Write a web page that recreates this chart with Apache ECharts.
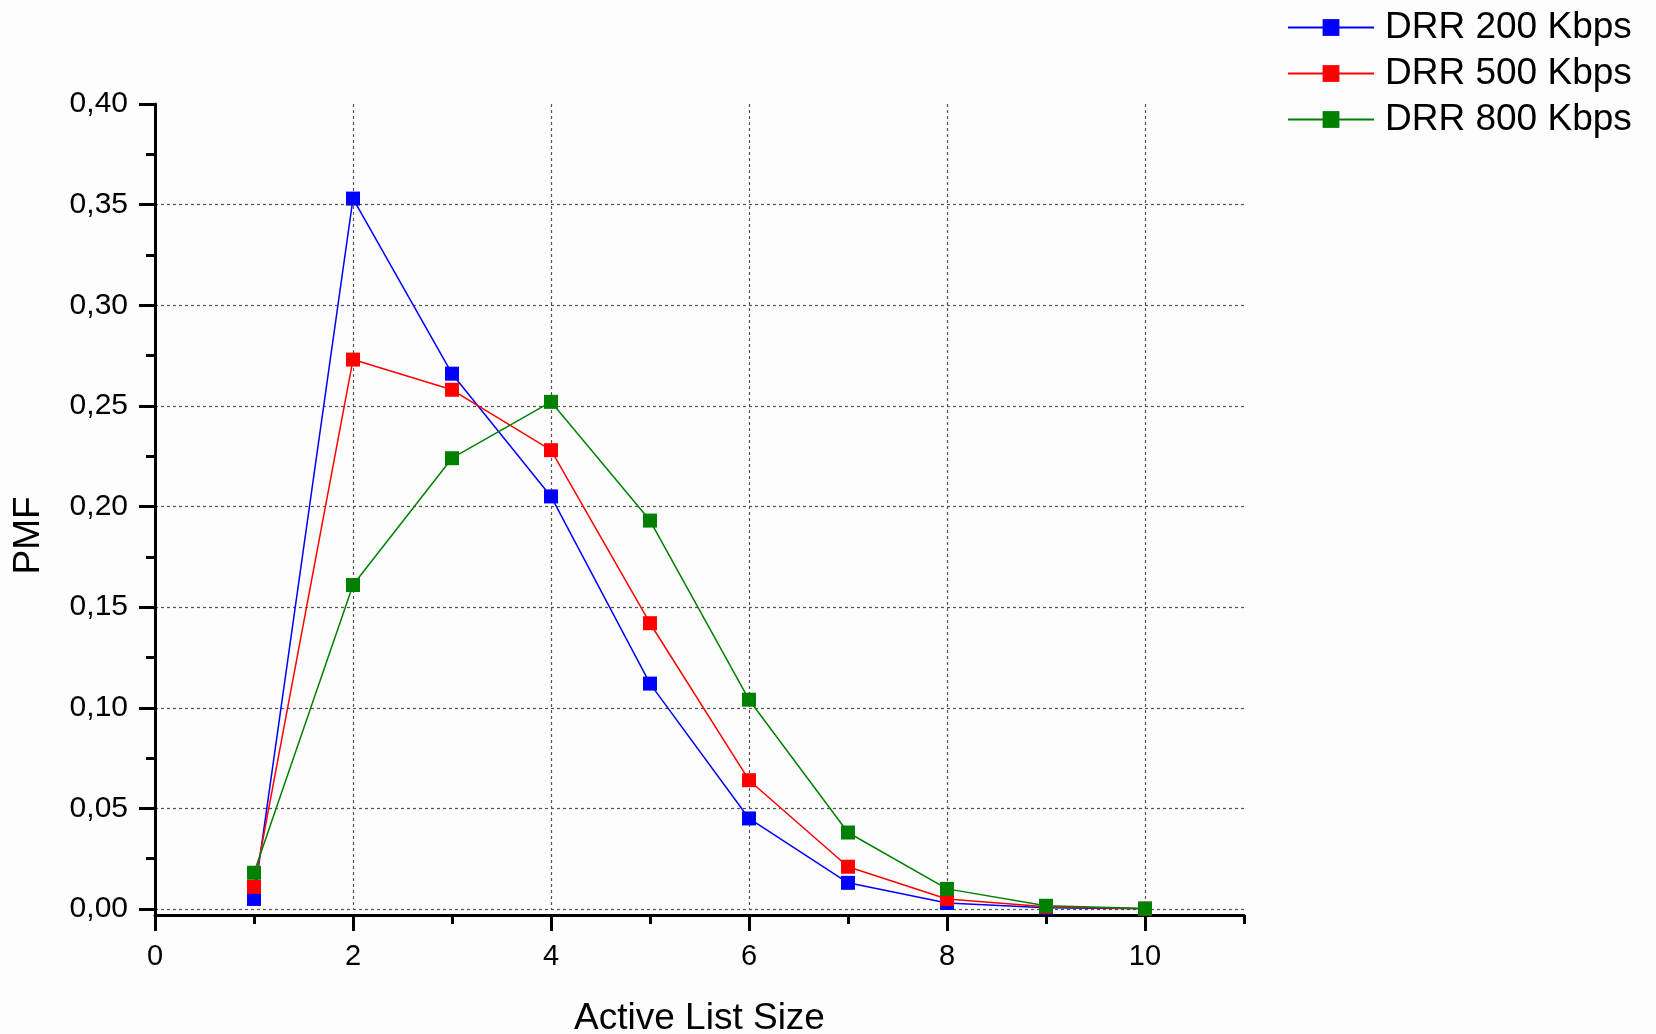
<!DOCTYPE html>
<html>
<head>
<meta charset="utf-8">
<title>PMF of Active List Size</title>
<script src="https://cdn.jsdelivr.net/npm/echarts@6/dist/echarts.min.js"></script>
<style>
  html, body { margin: 0; padding: 0; background: #fdfdfd; }
  #chart { width: 1656px; height: 1034px; }
</style>
</head>
<body>
<div id="chart"></div>
<script>
// Active list sizes (x values)
const listSizes = [1, 2, 3, 4, 5, 6, 7, 8, 9, 10];

// Probability mass per list size for each DRR rate
const drr200 = [0.005, 0.353, 0.266, 0.205, 0.112, 0.045, 0.013, 0.003, 0.0006, 0.0001];
const drr500 = [0.011, 0.273, 0.258, 0.228, 0.142, 0.064, 0.021, 0.005, 0.0011, 0.0001];
const drr800 = [0.018, 0.161, 0.224, 0.252, 0.193, 0.104, 0.038, 0.010, 0.0016, 0.0002];

const seriesNames = ['DRR 200 Kbps', 'DRR 500 Kbps', 'DRR 800 Kbps'];
const seriesColors = ['#0000ff', '#ff0000', '#008000'];

// Tick positions on the x axis
const xMajorTicks = [0, 2, 4, 6, 8, 10];
const xMinorTicks = [1, 3, 5, 7, 9, 11];

const FONT = "'Liberation Sans', Arial, sans-serif";
const pairs = vals => listSizes.map((x, i) => [x, vals[i]]);
const comma = v => v.toFixed(2).replace('.', ',');

const plotBox = { left: 155, right: 412, top: 104, outerBoundsMode: 'none', containLabel: false };

const chart = echarts.init(document.getElementById('chart'), null, { renderer: 'canvas' });

chart.setOption({
  backgroundColor: '#fdfdfd',
  animation: false,
  textStyle: { fontFamily: FONT },
  legend: {
    orient: 'vertical',
    left: 1282,
    top: 4,
    itemWidth: 86,
    itemHeight: 21,
    itemGap: 9,
    data: seriesNames,
    textStyle: { fontSize: 37, color: '#000', fontFamily: FONT, padding: [0, 0, 0, 6] }
  },
  grid: [
    // data area: y = 0 sits on its bottom edge
    Object.assign({ bottom: 125 }, plotBox),
    // axis frame: extends a few pixels below zero
    Object.assign({ bottom: 119 }, plotBox),
    // minor x ticks
    Object.assign({ bottom: 119 }, plotBox)
  ],
  xAxis: [
    {
      gridIndex: 0, type: 'value', min: 0, max: 11, interval: 2,
      axisLine: { show: false, onZero: false }, axisTick: { show: false }, axisLabel: { show: false },
      splitLine: {
        show: true, showMinLine: false, showMaxLine: false,
        lineStyle: { color: '#555', type: [3, 3], width: 1.2 }
      }
    },
    {
      gridIndex: 1, type: 'value', min: 0, max: 11,
      name: 'Active List Size', nameLocation: 'middle', nameGap: 85,
      nameTextStyle: { fontSize: 37, color: '#000', fontFamily: FONT },
      axisLine: { show: true, onZero: false, lineStyle: { color: '#000', width: 3 } },
      axisTick: { show: true, customValues: xMajorTicks, length: 16, lineStyle: { color: '#000', width: 3 } },
      axisLabel: { show: true, customValues: xMajorTicks, fontSize: 29, color: '#000', margin: 27, fontFamily: FONT },
      splitLine: { show: false }
    },
    {
      gridIndex: 2, type: 'value', min: 0, max: 11,
      axisLine: { show: false, onZero: false },
      axisTick: { show: true, customValues: xMinorTicks, length: 9, lineStyle: { color: '#000', width: 3 } },
      axisLabel: { show: false },
      splitLine: { show: false }
    }
  ],
  yAxis: [
    {
      gridIndex: 0, type: 'value', min: 0, max: 0.4, interval: 0.05,
      axisLine: { show: false, onZero: false },
      axisTick: { show: true, length: 16, lineStyle: { color: '#000', width: 3 } },
      minorTick: { show: true, splitNumber: 2, length: 9, lineStyle: { color: '#000', width: 3 } },
      axisLabel: { fontSize: 30, color: '#000', margin: 27, fontFamily: FONT, formatter: v => comma(v) },
      splitLine: {
        show: true, showMinLine: true, showMaxLine: false,
        lineStyle: { color: '#555', type: [3, 3], width: 1.2 }
      }
    },
    {
      gridIndex: 1, type: 'value', min: -0.003, max: 0.4,
      name: 'PMF', nameLocation: 'middle', nameGap: 108, nameRotate: 90,
      nameTextStyle: { fontSize: 37, color: '#000', fontFamily: FONT, padding: [0, 52, 0, 0] },
      axisLine: { show: true, onZero: false, lineStyle: { color: '#000', width: 3 } },
      axisTick: { show: false }, axisLabel: { show: false }, splitLine: { show: false }
    },
    {
      gridIndex: 2, type: 'value', min: -0.003, max: 0.4, show: false
    }
  ],
  series: [drr200, drr500, drr800].map((vals, i) => ({
    name: seriesNames[i],
    type: 'line',
    xAxisIndex: 0,
    yAxisIndex: 0,
    data: pairs(vals),
    symbol: 'rect',
    symbolSize: 14,
    color: seriesColors[i],
    itemStyle: { color: seriesColors[i] },
    lineStyle: { color: seriesColors[i], width: 1.5 },
    z: 3 + i
  }))
});
</script>
</body>
</html>
